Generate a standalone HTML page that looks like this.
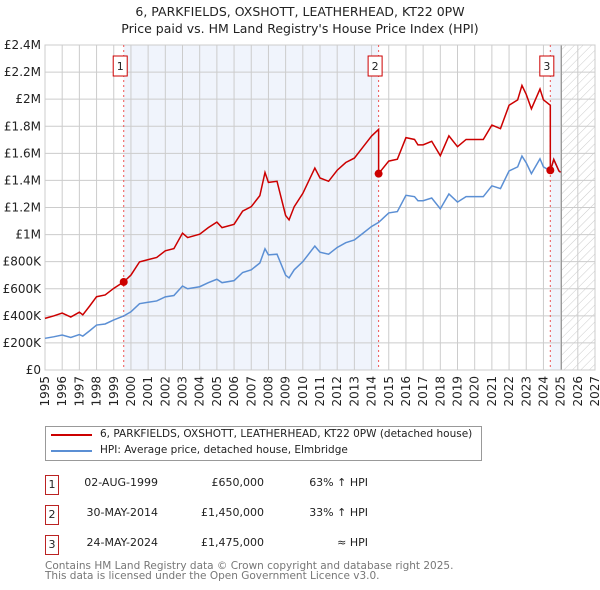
<!DOCTYPE html>
<html><head><meta charset="utf-8"><style>
body{margin:0;background:#fff;font-family:"DejaVu Sans","Liberation Sans",sans-serif;}
#wrap{position:relative;width:600px;height:590px;overflow:hidden}
.t{position:absolute;color:#222;font-size:12px;white-space:nowrap}
</style></head><body><div id="wrap">
<svg id="svg" width="600" height="420" style="position:absolute;left:0;top:0">
<defs><pattern id="hatch" width="6" height="6" patternUnits="userSpaceOnUse" patternTransform="rotate(45)"><line x1="0" y1="0" x2="0" y2="6" stroke="#ccc" stroke-width="1"/></pattern></defs>
<text x="300" y="16" text-anchor="middle" font-size="12.5" fill="#222">6, PARKFIELDS, OXSHOTT, LEATHERHEAD, KT22 0PW</text>
<text x="300" y="33" text-anchor="middle" font-size="12.5" fill="#222">Price paid vs. HM Land Registry's House Price Index (HPI)</text>
<g id="g"></g>
</svg>
<div style="position:absolute;left:45px;top:426px;width:437px;height:35px;border:1px solid #999;box-sizing:border-box"></div>
<div style="position:absolute;left:51px;top:434px;width:41px;height:2px;background:#cc0000"></div>
<div class="t" style="left:100px;top:428px;font-size:10.5px">6, PARKFIELDS, OXSHOTT, LEATHERHEAD, KT22 0PW (detached house)</div>
<div style="position:absolute;left:51px;top:450px;width:41px;height:2px;background:#5b8fd4"></div>
<div class="t" style="left:100px;top:444px;font-size:10.5px">HPI: Average price, detached house, Elmbridge</div>
<div id="tbl"></div>
<div class="t" style="left:45px;top:561px;font-size:10.5px;color:#777;line-height:10px">Contains HM Land Registry data © Crown copyright and database right 2025.<br>This data is licensed under the Open Government Licence v3.0.</div>
</div>
<script>
const yTicks=[0,200000,400000,600000,800000,1000000,1200000,1400000,1600000,1800000,2000000,2200000,2400000];
const yTickLabels=["£0","£200K","£400K","£600K","£800K","£1M","£1.2M","£1.4M","£1.6M","£1.8M","£2M","£2.2M","£2.4M"];
const xYears=[1995,1996,1997,1998,1999,2000,2001,2002,2003,2004,2005,2006,2007,2008,2009,2010,2011,2012,2013,2014,2015,2016,2017,2018,2019,2020,2021,2022,2023,2024,2025,2026,2027];
const hpiT=[1995,1995.5,1996,1996.5,1997,1997.2,1997.6,1998,1998.5,1999,1999.58,2000,2000.5,2001,2001.5,2002,2002.5,2003,2003.3,2004,2004.5,2005,2005.3,2006,2006.5,2007,2007.5,2007.8,2008,2008.5,2009,2009.2,2009.5,2010,2010.7,2011,2011.5,2012,2012.5,2013,2013.5,2014,2014.41,2015,2015.5,2016,2016.5,2016.7,2017,2017.5,2018,2018.5,2019,2019.5,2020,2020.5,2021,2021.5,2022,2022.5,2022.75,2023,2023.3,2023.8,2024,2024.4,2024.6,2024.9,2025];
const hpiV=[234000,245000,258000,240000,262000,250000,290000,332000,340000,370000,399000,430000,490000,500000,510000,540000,550000,620000,600000,615000,645000,670000,645000,660000,720000,740000,790000,895000,850000,855000,700000,680000,740000,800000,915000,870000,855000,905000,940000,960000,1010000,1060000,1090000,1160000,1170000,1290000,1280000,1250000,1250000,1270000,1190000,1300000,1240000,1280000,1280000,1280000,1360000,1340000,1470000,1500000,1580000,1530000,1450000,1560000,1500000,1470000,1555000,1470000,1460000];
const saleT=[1999.58,2014.41,2024.4];
const saleP=[650000,1450000,1475000];
const saleRatio=[1.63,1.63,1.33,1.0];
const saleLabels=["1","2","3"];
const saleDates=["02-AUG-1999","30-MAY-2014","24-MAY-2024"];
const salePrices=["£650,000","£1,450,000","£1,475,000"];
const saleHpi=["63% ↑ HPI","33% ↑ HPI","≈ HPI"];
const dataEnd=2025.05;

const L=45,R=595,T=45,B=370;
const X=y=>L+(y-1995)/(2027-1995)*(R-L);
const Y=v=>B-v/2400000*(B-T);
const g=document.getElementById('g');const NS='http://www.w3.org/2000/svg';
function mk(t,a,p){const e=document.createElementNS(NS,t);for(const k in a)e.setAttribute(k,a[k]);(p||g).appendChild(e);return e;}
let e;
e=mk('rect',{x:X(saleT[0]),y:T,width:X(saleT[1])-X(saleT[0]),height:B-T,fill:'#f0f4fc'});


e=mk('rect',{x:X(saleT[2]),y:T,width:X(dataEnd)-X(saleT[2]),height:B-T,fill:'#f0f4fc'});


e=mk('rect',{x:X(dataEnd),y:T,width:R-X(dataEnd),height:B-T,fill:'url(#hatch)'});


yTicks.forEach((v,i)=>{e=mk('line',{x1:L,x2:R,y1:Y(v),y2:Y(v),stroke:'#ccc'});


e=mk('text',{x:L-4,y:Y(v)+4,'text-anchor':'end','font-size':12,fill:'#222'});e.textContent=yTickLabels[i];

});
xYears.forEach(y=>{e=mk('line',{x1:X(y),x2:X(y),y1:T,y2:B,stroke:'#ccc'});


e=mk('text',{x:0,y:0,'text-anchor':'end','font-size':12,fill:'#222',transform:`translate(${X(y)+4},${B+6}) rotate(-90)`});e.textContent=y;

});
e=mk('line',{x1:X(dataEnd),x2:X(dataEnd),y1:T,y2:B,stroke:'#999'});


e=mk('rect',{x:L,y:T,width:R-L,height:B-T,fill:'none',stroke:'#ccc'});


saleT.forEach((t,i)=>{e=mk('line',{x1:X(t),x2:X(t),y1:T,y2:B,stroke:'#e55','stroke-dasharray':'2,3'});

});
e=mk('polyline',{points:hpiT.map((t,i)=>X(t)+','+Y(hpiV[i])).join(' '),fill:'none',stroke:'#5b8fd4','stroke-width':1.5});


function seg(t){let s=0;while(s<saleT.length&&t>=saleT[s])s++;return s;}
let pts=[];
hpiT.forEach((t,i)=>{const s=seg(t);
 if(s>0&&saleT[s-1]===t&&s>1){pts.push(X(t)+','+Y(hpiV[i]*saleRatio[s-1]));}
 pts.push(X(t)+','+Y(hpiV[i]*saleRatio[s]));});
e=mk('polyline',{points:pts.join(' '),fill:'none',stroke:'#cc0000','stroke-width':1.5});


saleT.forEach((t,i)=>{e=mk('circle',{cx:X(t),cy:Y(saleP[i]),r:4,fill:'#cc0000'});


e=mk('rect',{x:X(t)-10.5,y:56,width:14,height:20,fill:'#fff',stroke:'#cc0000'});


e=mk('text',{x:X(t)-3.5,y:70,'text-anchor':'middle','font-size':11,fill:'#222'});e.textContent=saleLabels[i];

});
const tbl=document.getElementById('tbl');
saleLabels.forEach((l,i)=>{const top=475+i*30;
 const add=(html,style,name)=>{const d=document.createElement('div');d.className='t';d.style.cssText=style;d.innerHTML=html;
 
 
 tbl.appendChild(d);};
 add(l,`left:45px;top:${top}px;width:14px;height:20px;border:1px solid #b22;box-sizing:border-box;text-align:center;line-height:18px;font-size:11px`,'row-number-box');
 add(saleDates[i],`left:78px;top:${top+1}px;width:80px;text-align:right;font-size:11px`,'row-date');
 add(salePrices[i],`left:164px;top:${top+1}px;width:100px;text-align:right;font-size:11px`,'row-price');
 add(saleHpi[i],`left:268px;top:${top+1}px;width:100px;text-align:right;font-size:11px`,'row-hpi');
});
</script></body></html>
